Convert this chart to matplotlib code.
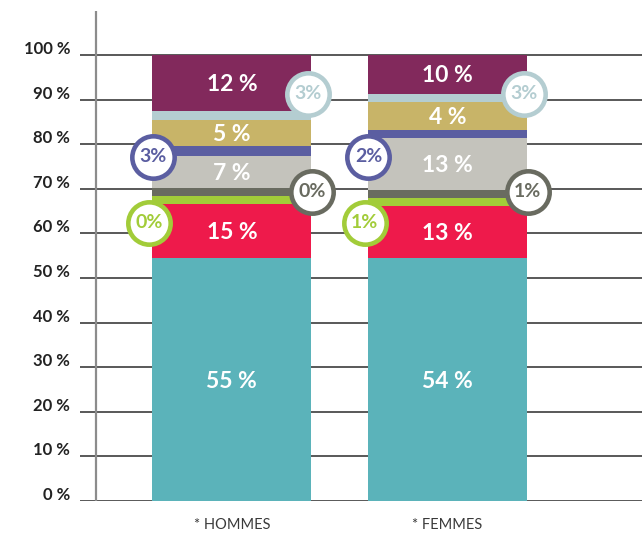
import matplotlib.pyplot as plt
import matplotlib.transforms as mtransforms
import numpy as np

# ---------------- data ----------------
categories = ["* HOMMES", "* FEMMES"]

# segment heights (bottom -> top)
seg_names = ["teal", "red", "green", "dkgrey", "ltgrey", "purple", "gold", "ltblue", "maroon"]
seg_colors = ["#5BB3BA", "#EE1A4B", "#A2CC39", "#696B60", "#C4C3BC",
              "#5B5EA1", "#C8B468", "#B4CDD1", "#82295C"]
hommes = [54.4, 12.2, 1.9, 1.7, 7.2, 2.2, 5.8, 2.0, 12.6]
femmes = [54.4, 11.8, 1.7, 1.8, 11.7, 1.9, 6.2, 1.8, 8.7]

# labels printed in the bars (None = shown in a bubble instead)
hommes_labels = ["55 %", "15 %", None, None, "7 %", None, "5 %", None, "12 %"]
femmes_labels = ["54 %", "13 %", None, None, "13 %", None, "4 %", None, "10 %"]

# bubbles: segment index, side of the bar, text per bar, y level
bubble_seg = [7, 5, 3, 2]
bubble_side = ["right", "left", "right", "left"]
bubble_text_h = ["3%", "3%", "0%", "0%"]
bubble_text_f = ["3%", "2%", "1%", "1%"]
bubble_y = [91.3, 77.2, 69.4, 62.4]

yticks = list(range(0, 101, 10))
ytick_labels = [f"{v} %" for v in yticks]

# ---------------- figure ----------------
W, H = 642, 533
fig = plt.figure(figsize=(W / 100, H / 100), dpi=100)
ax = fig.add_axes([80 / W, 32 / H, 562 / W, 490 / H])
ax.set_xlim(-0.705, 1.904)
ax.set_ylim(0, 109.9)
ax.axis("off")

FONT = "Lato"
x = np.arange(len(categories))
bar_w = 0.738

# grid lines
for v in yticks:
    ax.axhline(v, color="#2b2b2b", lw=1.1, zorder=1)
# vertical axis line
ax.axvline(-0.632, color="#8c8c8c", lw=1.6, zorder=1)

# y tick labels
tlab = mtransforms.offset_copy(ax.get_yaxis_transform(), fig=fig, x=-10, y=6, units="dots")
for v, lab in zip(yticks, ytick_labels):
    ax.text(0, v, lab, transform=tlab, ha="right", va="center",
            fontsize=12, fontweight="bold", family=FONT, color="#222222")

# stacked bars
data = [hommes, femmes]
labels = [hommes_labels, femmes_labels]
for i, vals in enumerate(data):
    bottom = 0
    for j, h in enumerate(vals):
        ax.bar(x[i], h, bottom=bottom, width=bar_w, color=seg_colors[j],
               linewidth=0, zorder=2)
        if labels[i][j]:
            ax.text(x[i], bottom + h / 2 - (0.5 if j == 0 else 0.3), labels[i][j],
                    ha="center", va="center", fontsize=16.5, fontweight="bold",
                    family=FONT, color="white", zorder=4)
        bottom += h

# bubbles
texts = [bubble_text_h, bubble_text_f]
for i in range(len(categories)):
    for k, seg in enumerate(bubble_seg):
        col = seg_colors[seg]
        if bubble_side[k] == "right":
            bx = x[i] + bar_w / 2 - (0.015 if k == 0 else -0.005)
        else:
            bx = x[i] - bar_w / 2 + (0.003 if k == 1 else -0.015)
        ax.scatter(bx, bubble_y[k], s=930, facecolor="white", edgecolor=col,
                   linewidth=3.3, zorder=5)
        ax.text(bx, bubble_y[k], texts[i][k], ha="center", va="center",
                fontsize=14, fontweight="bold", family=FONT, color=col, zorder=6)

# category labels
clab = mtransforms.offset_copy(ax.transData, fig=fig, x=0, y=-24, units="dots")
for xi, cat in zip(x, categories):
    ax.text(xi, 0, cat, transform=clab, ha="center", va="center",
            fontsize=10.5, family=FONT, color="#3a3a3a")

fig.savefig("out.png", dpi=100)
